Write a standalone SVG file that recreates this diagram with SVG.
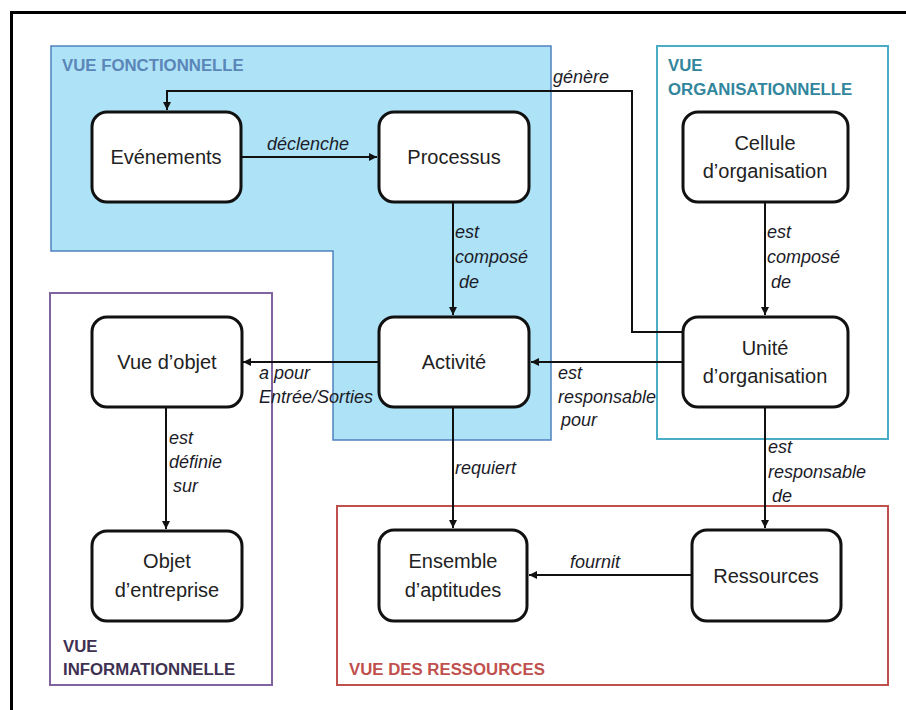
<svg xmlns="http://www.w3.org/2000/svg" width="906" height="710" viewBox="0 0 906 710">
<style>
.node rect{fill:#fff;stroke:#111;stroke-width:3}
.node text{font-family:"Liberation Sans",Arial,sans-serif;font-size:20px;fill:#222;text-anchor:middle}
.lbl{font-family:"Liberation Sans",Arial,sans-serif;font-size:18px;font-style:italic;fill:#1c1c28}
.conn{fill:none;stroke:#111;stroke-width:2}
.ttl{font-family:"Liberation Sans",Arial,sans-serif;font-size:16.8px;font-weight:bold}
</style>
<defs>
<marker id="ah" markerWidth="9" markerHeight="9" refX="8" refY="4" orient="auto" markerUnits="userSpaceOnUse">
<path d="M0,0 L8,4 L0,8 z" fill="#111"/>
</marker>
</defs>
<rect x="0" y="0" width="906" height="710" fill="#fff"/>
<rect x="11.5" y="12.5" width="1000" height="1000" fill="none" stroke="#000" stroke-width="3"/>

<g id="view-fonctionnelle">
<polygon points="51,46 551,46 551,440 333,440 333,251 51,251" fill="#ade2f7" stroke="#4f81bd" stroke-width="1.5"/>
<text class="ttl" x="62" y="71" fill="#5b86b8">VUE FONCTIONNELLE</text>
</g>
<g id="view-organisationnelle">
<rect x="657" y="46" width="231" height="393" fill="#fff" stroke="#4bacc6" stroke-width="2"/>
<text class="ttl" x="668" y="71" fill="#31859c">VUE</text>
<text class="ttl" x="668" y="95" fill="#31859c">ORGANISATIONNELLE</text>
</g>
<g id="view-informationnelle">
<rect x="50" y="293" width="222" height="392" fill="none" stroke="#8064a2" stroke-width="2"/>
<text class="ttl" x="63" y="652" fill="#3f3151">VUE</text>
<text class="ttl" x="63" y="675" fill="#3f3151">INFORMATIONNELLE</text>
</g>
<g id="view-ressources">
<rect x="337" y="506" width="551" height="179" fill="none" stroke="#c0504d" stroke-width="2"/>
<text class="ttl" x="349" y="675" fill="#c0504d">VUE DES RESSOURCES</text>
</g>

<g id="connectors">
<path class="conn" d="M683,332 H632 V91 H167 V110" marker-end="url(#ah)"/>
<text class="lbl" x="553" y="83">génère</text>
<path class="conn" d="M241,157 H377" marker-end="url(#ah)"/>
<text class="lbl" x="267" y="150">déclenche</text>
<path class="conn" d="M453,202 V315" marker-end="url(#ah)"/>
<text class="lbl" x="455" y="238">est</text>
<text class="lbl" x="455" y="263">composé</text>
<text class="lbl" x="459" y="288">de</text>
<path class="conn" d="M765,202 V315" marker-end="url(#ah)"/>
<text class="lbl" x="767" y="238">est</text>
<text class="lbl" x="767" y="263">composé</text>
<text class="lbl" x="771" y="288">de</text>
<path class="conn" d="M683,362 H531" marker-end="url(#ah)"/>
<text class="lbl" x="558" y="379">est</text>
<text class="lbl" x="558" y="403">responsable</text>
<text class="lbl" x="561" y="426">pour</text>
<path class="conn" d="M379,362 H243" marker-end="url(#ah)"/>
<text class="lbl" x="259" y="379">a pour</text>
<text class="lbl" x="259" y="403">Entrée/Sorties</text>
<path class="conn" d="M166,407 V529" marker-end="url(#ah)"/>
<text class="lbl" x="169" y="444">est</text>
<text class="lbl" x="169" y="468">définie</text>
<text class="lbl" x="173" y="492">sur</text>
<path class="conn" d="M453,407 V528" marker-end="url(#ah)"/>
<text class="lbl" x="455" y="474">requiert</text>
<path class="conn" d="M765,407 V528" marker-end="url(#ah)"/>
<text class="lbl" x="768" y="453">est</text>
<text class="lbl" x="768" y="478">responsable</text>
<text class="lbl" x="772" y="502">de</text>
<path class="conn" d="M692,575 H529" marker-end="url(#ah)"/>
<text class="lbl" x="570" y="568">fournit</text>
</g>

<g id="evenements" class="node"><rect x="92" y="112" width="149" height="90" rx="15"/><text x="166" y="164">Evénements</text></g>
<g id="processus" class="node"><rect x="379" y="112" width="150" height="90" rx="15"/><text x="454" y="164">Processus</text></g>
<g id="activite" class="node"><rect x="379" y="317" width="150" height="90" rx="15"/><text x="454" y="369">Activité</text></g>
<g id="cellule" class="node"><rect x="683" y="112" width="165" height="90" rx="15"/><text x="765" y="150">Cellule</text><text x="765" y="178">d’organisation</text></g>
<g id="unite" class="node"><rect x="683" y="317" width="165" height="90" rx="15"/><text x="765" y="355">Unité</text><text x="765" y="383">d’organisation</text></g>
<g id="vue-objet" class="node"><rect x="92" y="317" width="150" height="90" rx="15"/><text x="167" y="369">Vue d’objet</text></g>
<g id="objet-entreprise" class="node"><rect x="92" y="531" width="150" height="90" rx="15"/><text x="167" y="568">Objet</text><text x="167" y="597">d’entreprise</text></g>
<g id="ensemble" class="node"><rect x="379" y="530" width="148" height="91" rx="15"/><text x="453" y="568">Ensemble</text><text x="453" y="597">d’aptitudes</text></g>
<g id="ressources" class="node"><rect x="692" y="530" width="149" height="91" rx="15"/><text x="766" y="583">Ressources</text></g>
</svg>
